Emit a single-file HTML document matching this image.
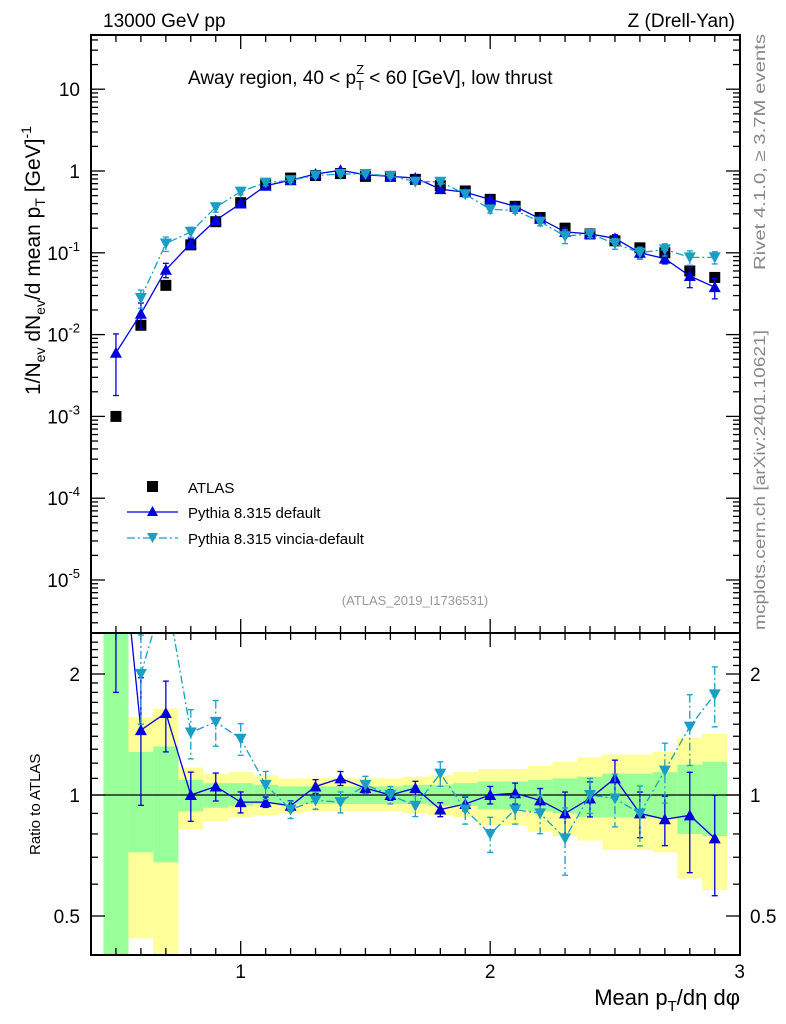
<!DOCTYPE html>
<html><head><meta charset="utf-8"><style>
body{margin:0;background:#fff}
svg{display:block;font-family:"Liberation Sans",sans-serif}
</style></head><body>
<svg id="c" width="786" height="1024" xmlns="http://www.w3.org/2000/svg">
<rect x="0" y="0" width="786" height="1024" fill="#fff"/>
<g id="bands"></g>
<g id="ticks"></g>
<g id="series"></g>
<rect x="91" y="35" width="649" height="598" fill="none" stroke="#000" stroke-width="2"/>
<rect x="91" y="633" width="649" height="322" fill="none" stroke="#000" stroke-width="2"/>
<text x="103" y="27" font-size="19">13000 GeV pp</text>
<text x="735" y="27" font-size="19" text-anchor="end">Z (Drell-Yan)</text>
<text x="188" y="84" font-size="19">Away region, 40 &lt; p<tspan font-size="13" dy="6">T</tspan><tspan font-size="13" dx="-8" dy="-16">Z</tspan><tspan dy="10"> &lt; 60 [GeV], low thrust</tspan></text>
<text x="415" y="605" font-size="13" fill="#999" text-anchor="middle">(ATLAS_2019_I1736531)</text>
<text transform="translate(765,270) rotate(-90)" font-size="16" fill="#888" textLength="236" lengthAdjust="spacingAndGlyphs">Rivet 4.1.0, ≥ 3.7M events</text>
<text transform="translate(765,630) rotate(-90)" font-size="16" fill="#888" textLength="300" lengthAdjust="spacingAndGlyphs">mcplots.cern.ch [arXiv:2401.10621]</text>
<text transform="translate(40,395) rotate(-90)" font-size="21">1/N<tspan font-size="14" dy="5">ev</tspan><tspan dy="-5"> dN</tspan><tspan font-size="14" dy="5">ev</tspan><tspan dy="-5">/d mean p</tspan><tspan font-size="14" dy="5">T</tspan><tspan dy="-5"> [GeV]</tspan><tspan font-size="14" dy="-9">-1</tspan></text>
<text transform="translate(40,855) rotate(-90)" font-size="15">Ratio to ATLAS</text>
<text x="740" y="1005" font-size="22" text-anchor="end">Mean p<tspan font-size="15" dy="6">T</tspan><tspan dy="-6">/dη dφ</tspan></text>
<g>
<rect x="147" y="481" width="11" height="11" fill="#000"/>
<text x="188" y="493" font-size="15">ATLAS</text>
<line x1="127" y1="512" x2="178" y2="512" stroke="#0000dd" stroke-width="1.3"/>
<path d="M152.5,506 L158,516 L147,516Z" fill="#0000dd"/>
<text x="188" y="518" font-size="15">Pythia 8.315 default</text>
<line x1="127" y1="538" x2="178" y2="538" stroke="#1a9fc4" stroke-width="1.3" stroke-dasharray="8,3,2,3"/>
<path d="M147,533 L158,533 L152.5,543Z" fill="#1a9fc4"/>
<text x="188" y="544" font-size="15">Pythia 8.315 vincia-default</text>
</g>
</svg>
<script>
const xCenters=[0.5,0.6,0.7,0.8,0.9,1.0,1.1,1.2,1.3,1.4,1.5,1.6,1.7,1.8,1.9,2.0,2.1,2.2,2.3,2.4,2.5,2.6,2.7,2.8,2.9];
const atlasVals=[0.001,0.013,0.04,0.125,0.24,0.41,0.68,0.82,0.88,0.93,0.86,0.86,0.79,0.66,0.57,0.45,0.37,0.27,0.2,0.17,0.14,0.115,0.1,0.06,0.05];
const defVals=[0.006,0.018,0.062,0.13,0.25,0.40,0.66,0.77,0.92,1.02,0.9,0.86,0.82,0.6,0.55,0.45,0.37,0.26,0.18,0.17,0.15,0.1,0.085,0.052,0.038];
const vinVals=[null,0.028,0.13,0.18,0.36,0.56,0.72,0.77,0.88,0.92,0.92,0.87,0.74,0.74,0.52,0.34,0.33,0.24,0.16,0.17,0.13,0.1,0.11,0.088,0.088];
const defRatio=[6,1.45,1.6,1.0,1.05,0.96,0.96,0.94,1.05,1.1,1.04,1.0,1.04,0.92,0.95,1.0,1.01,0.97,0.9,0.98,1.1,0.9,0.87,0.89,0.78];
const vinRatio=[null,2.0,3.25,1.43,1.52,1.38,1.06,0.92,0.97,0.96,1.06,1.0,0.94,1.13,0.92,0.8,0.92,0.9,0.78,1.0,0.98,0.9,1.15,1.48,1.78];
const defRelErr=[0.7,0.35,0.2,0.14,0.08,0.06,0.03,0.03,0.04,0.04,0.03,0.03,0.04,0.04,0.04,0.05,0.06,0.07,0.13,0.1,0.11,0.13,0.14,0.28,0.28];
const vinRelErr=[0,0.25,0.2,0.14,0.13,0.09,0.08,0.05,0.05,0.06,0.05,0.05,0.06,0.07,0.08,0.1,0.08,0.11,0.19,0.1,0.15,0.17,0.17,0.2,0.17];
const greenHi=[3,1.28,1.32,1.09,1.07,1.07,1.06,1.05,1.05,1.05,1.05,1.05,1.06,1.06,1.07,1.08,1.08,1.09,1.10,1.11,1.13,1.13,1.14,1.19,1.21];
const greenLo=[0.3,0.72,0.68,0.91,0.93,0.94,0.95,0.95,0.95,0.95,0.95,0.95,0.95,0.94,0.94,0.92,0.92,0.91,0.90,0.88,0.88,0.88,0.88,0.80,0.79];
const yellowHi=[3,1.56,1.64,1.17,1.13,1.14,1.12,1.10,1.10,1.10,1.10,1.10,1.11,1.12,1.14,1.16,1.16,1.18,1.21,1.24,1.26,1.26,1.28,1.39,1.42];
const yellowLo=[0.3,0.44,0.3,0.82,0.86,0.88,0.89,0.90,0.91,0.91,0.91,0.91,0.90,0.89,0.88,0.84,0.84,0.81,0.79,0.77,0.73,0.73,0.72,0.62,0.58];
const binHalf=0.05;
const xTickLabels=[1,2,3];
const yTickExps=[-5,-4,-3,-2,-1,0,1];
const rTickLabels=[0.5,1,2];

const NS="http://www.w3.org/2000/svg";
const X=v=>91+(v-0.4)*249.5;
const Y=v=>171-Math.log10(v)*81.8;
const R=v=>795-Math.log2(v)*121;
const clampM=y=>Math.max(35,Math.min(633,y));
const clampR=y=>Math.max(633,Math.min(955,y));
function mk(p,tag,at){const e=document.createElementNS(NS,tag);for(const k in at)e.setAttribute(k,at[k]);p.appendChild(e);return e;}
const bands=document.getElementById('bands'),ticks=document.getElementById('ticks'),ser=document.getElementById('series');

xCenters.forEach((c,i)=>{
  const x0=X(c-binHalf),w=X(c+binHalf)-x0;
  let y1=clampR(R(yellowHi[i])),y2=clampR(R(yellowLo[i]));
  let e=mk(bands,'rect',{x:x0,y:y1,width:w,height:y2-y1,fill:'#ffff99'});
  
  
  y1=clampR(R(greenHi[i]));y2=clampR(R(greenLo[i]));
  e=mk(bands,'rect',{x:x0,y:y1,width:w,height:y2-y1,fill:'#99ff99'});
  
  
});
let ref=mk(ticks,'line',{x1:91,x2:740,y1:R(1),y2:R(1),stroke:'#000','stroke-width':1.3});



for(let k=4;k<=30;k++){const v=k/10,x=X(v),maj=(k%10===0);
  const L=maj?14:7;
  [[633,633-L],[35,35+L],[955,955-L],[633,633+L]].forEach(p=>mk(ticks,'line',{x1:x,x2:x,y1:p[0],y2:p[1],stroke:'#000','stroke-width':1.3}));
}
xTickLabels.forEach(v=>{const t=mk(ticks,'text',{x:X(v),y:978,'font-size':19,'text-anchor':'middle'});t.textContent=v;
  
  });
for(let e=-6;e<=1;e++){for(let m=1;m<10;m++){const v=m*Math.pow(10,e),y=Y(v);if(y<35||y>633)continue;const L=m===1?14:7;
  mk(ticks,'line',{x1:91,x2:91+L,y1:y,y2:y,stroke:'#000','stroke-width':1.3});
  mk(ticks,'line',{x1:740,x2:740-L,y1:y,y2:y,stroke:'#000','stroke-width':1.3});}}
yTickExps.forEach(e=>{const y=Y(Math.pow(10,e));const t=mk(ticks,'text',{x:80,y:y+7,'font-size':19,'text-anchor':'end'});
  if(e===0)t.textContent='1';else if(e===1)t.textContent='10';else{t.textContent='10';const s=mk(t,'tspan',{'font-size':13,dy:-9});s.textContent=e;}
  
  });
for(let v=0.4;v<=2.5;v+=0.1){const y=R(v);if(y<633||y>955)continue;const maj=[0.5,1,2].some(a=>Math.abs(a-v)<1e-6);const L=maj?14:7;
  mk(ticks,'line',{x1:91,x2:91+L,y1:y,y2:y,stroke:'#000','stroke-width':1.3});
  mk(ticks,'line',{x1:740,x2:740-L,y1:y,y2:y,stroke:'#000','stroke-width':1.3});}
rTickLabels.forEach(v=>{const y=R(v);
  let t=mk(ticks,'text',{x:80,y:y+7,'font-size':19,'text-anchor':'end'});t.textContent=v;
  
  
  t=mk(ticks,'text',{x:750,y:y+7,'font-size':19});t.textContent=v;
  
  });

function drawSeries(vals,rel,color,dash,down,Yf,clamp,name){
  const g=mk(ser,'g',{});
  
  
  let pts=[];
  vals.forEach((v,i)=>{if(v==null)return;pts.push([X(xCenters[i]),Yf(v)]);});
  const isR=clamp(0)===633;
  const cp=mk(g,'clipPath',{id:'cl'+name});mk(cp,'rect',{x:91,y:isR?633:35,width:649,height:isR?322:598});
  const inner=mk(g,'g',{'clip-path':'url(#cl'+name+')'});
  const pl=mk(inner,'polyline',{points:pts.map(p=>p.join(',')).join(' '),fill:'none',stroke:color,'stroke-width':1.3});
  if(dash)pl.setAttribute('stroke-dasharray',dash);
  vals.forEach((v,i)=>{if(v==null)return;const x=X(xCenters[i]);
    const yh=Yf(v*(1+rel[i])),yl=Yf(Math.max(v*(1-rel[i]),1e-9));
    const a={x1:x,x2:x,y1:clamp(yh),y2:clamp(yl),stroke:color,'stroke-width':1.3};if(dash)a['stroke-dasharray']=dash;
    mk(inner,'line',a);
    [yh,yl].forEach(yy=>{if(yy>=clamp(yy)-0.1&&yy<=clamp(yy)+0.1)mk(inner,'line',{x1:x-3,x2:x+3,y1:yy,y2:yy,stroke:color,'stroke-width':1.3});});
    const y=Yf(v);
    const m=mk(inner,'path',{d:down?`M${x-6},${y-5} L${x+6},${y-5} L${x},${y+6}Z`:`M${x},${y-6} L${x+6},${y+5} L${x-6},${y+5}Z`,fill:color});
    
    
  });
}
atlasVals.forEach((v,i)=>{const x=X(xCenters[i]),y=Y(v);
  const r=mk(ser,'rect',{x:x-5.5,y:y-5.5,width:11,height:11,fill:'#000'});
  
  });
drawSeries(defVals,defRelErr,'#0000dd',null,false,Y,clampM,'default-main');
drawSeries(vinVals,vinRelErr,'#1a9fc4','8,3,2,3',true,Y,clampM,'vincia-main');
drawSeries(defRatio,defRelErr,'#0000dd',null,false,R,clampR,'default-ratio');
drawSeries(vinRatio,vinRelErr,'#1a9fc4','8,3,2,3',true,R,clampR,'vincia-ratio');
</script>
</body></html>
